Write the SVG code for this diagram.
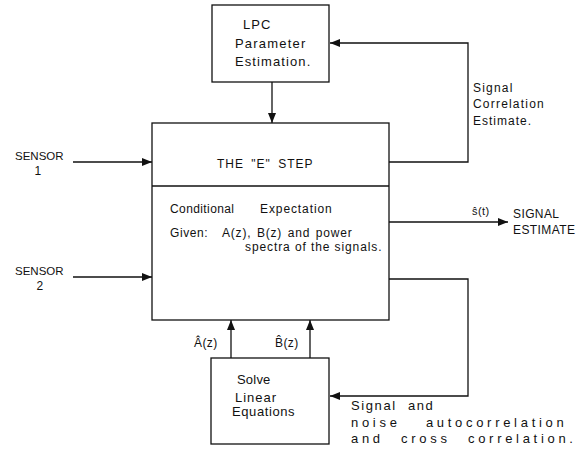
<svg xmlns="http://www.w3.org/2000/svg" width="583" height="451" viewBox="0 0 583 451">
<style>
text{font-family:"Liberation Sans",Arial,sans-serif;font-size:12px;fill:#111;letter-spacing:0.4px}
.box{fill:#fff;stroke:#111;stroke-width:1.3}
.ln{fill:none;stroke:#111;stroke-width:1.3}
.t13{font-size:13px}
</style>
<defs>
<marker id="ah" viewBox="0 0 10 8" refX="10" refY="4" markerWidth="10" markerHeight="8" markerUnits="userSpaceOnUse" orient="auto">
<path d="M0,0 L10,4 L0,8 Z" fill="#111"/>
</marker>
</defs>
<rect width="583" height="451" fill="#fff"/>
<g id="connectors">
<line class="ln" x1="272" y1="82" x2="272" y2="123" marker-end="url(#ah)"/>
<polyline class="ln" points="389,162 468,162 468,43 330,43" marker-end="url(#ah)"/>
<line class="ln" x1="73" y1="162" x2="152" y2="162" marker-end="url(#ah)"/>
<line class="ln" x1="73" y1="277" x2="152" y2="277" marker-end="url(#ah)"/>
<line class="ln" x1="389" y1="222" x2="508" y2="222" marker-end="url(#ah)"/>
<polyline class="ln" points="389,279 468,279 468,396 330,396" marker-end="url(#ah)"/>
<line class="ln" x1="231" y1="358" x2="231" y2="320" marker-end="url(#ah)"/>
<line class="ln" x1="310" y1="358" x2="310" y2="320" marker-end="url(#ah)"/>
</g>
<g id="lpc">
<rect class="box" x="212" y="5" width="117" height="77"/>
<text class="t13" x="243" y="29" style="letter-spacing:1px">LPC</text>
<text class="t13" x="235" y="48" style="letter-spacing:1.2px">Parameter</text>
<text class="t13" x="235" y="66" style="letter-spacing:1.1px">Estimation.</text>
</g>
<g id="estep">
<rect class="box" x="152" y="123" width="237" height="197"/>
<line class="ln" x1="152" y1="186" x2="389" y2="186"/>
<text x="217" y="168" style="letter-spacing:1px" word-spacing="3">THE "E" STEP</text>
<text x="170" y="213" style="letter-spacing:0.4px">Conditional</text>
<text x="260" y="213" style="letter-spacing:0.9px">Expectation</text>
<text x="170" y="237" style="letter-spacing:0.6px">Given:</text>
<text x="222" y="237" style="letter-spacing:0.8px" word-spacing="1.5">A(z), B(z) and power</text>
<text x="245" y="251" style="letter-spacing:0.9px">spectra of the signals.</text>
</g>
<g id="solve">
<rect class="box" x="211" y="358" width="118" height="86"/>
<text class="t13" x="237" y="384" style="letter-spacing:0.2px">Solve</text>
<text class="t13" x="235" y="402" style="letter-spacing:1px">Linear</text>
<text class="t13" x="232" y="416" style="letter-spacing:0.6px">Equations</text>
</g>
<g id="labels">
<text x="15" y="160" style="font-size:11.5px;letter-spacing:0">SENSOR</text>
<text x="38" y="175" text-anchor="middle">1</text>
<text x="15" y="275" style="font-size:11.5px;letter-spacing:0">SENSOR</text>
<text x="40" y="290" text-anchor="middle">2</text>
<text x="473" y="92" style="letter-spacing:1.2px">Signal</text>
<text x="473" y="108" style="letter-spacing:1.2px">Correlation</text>
<text x="473" y="125" style="letter-spacing:1px">Estimate.</text>
<text x="472" y="215" style="font-size:11px">ŝ(t)</text>
<text x="513" y="218">SIGNAL</text>
<text x="513" y="234">ESTIMATE</text>
<text x="194" y="347">Â(z)</text>
<text x="275" y="347">B̂(z)</text>
<text class="t13" x="351" y="410" style="letter-spacing:1.6px" word-spacing="6">Signal and</text>
<text class="t13" x="351" y="427" style="letter-spacing:3.7px" word-spacing="18">noise autocorrelation</text>
<text class="t13" x="351" y="443" style="letter-spacing:3.7px" word-spacing="10">and cross correlation.</text>
</g>
</svg>
